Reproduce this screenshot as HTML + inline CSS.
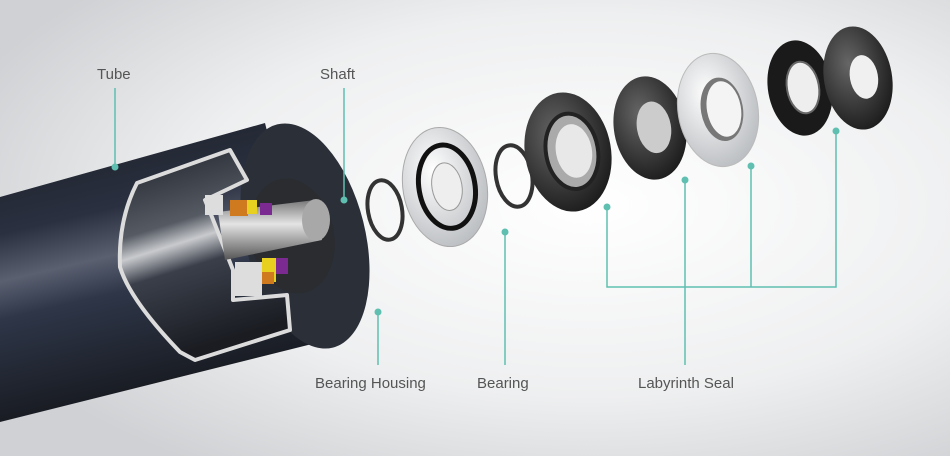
<!DOCTYPE html>
<html><head><meta charset="utf-8"><style>
html,body{margin:0;padding:0;width:950px;height:456px;overflow:hidden;background:#e6e7e9}
svg{display:block}
text{font-family:"Liberation Sans",sans-serif;font-size:15px;fill:#555}
</style></head><body>
<svg width="950" height="456" viewBox="0 0 950 456">
<defs>
<radialGradient id="bg" cx="62%" cy="45%" r="70%">
<stop offset="0" stop-color="#ffffff"/><stop offset="0.6" stop-color="#eeeff0"/><stop offset="1" stop-color="#cfd1d4"/>
</radialGradient>
<linearGradient id="tube" x1="0" y1="0" x2="0.25" y2="1">
<stop offset="0" stop-color="#1c1f26"/><stop offset="0.35" stop-color="#2a3040"/><stop offset="0.5" stop-color="#5a6070"/><stop offset="0.62" stop-color="#2e3648"/><stop offset="1" stop-color="#15171c"/>
</linearGradient>
<linearGradient id="inner" x1="0" y1="0" x2="0.25" y2="1">
<stop offset="0" stop-color="#1e2129"/><stop offset="0.4" stop-color="#555a63"/><stop offset="0.5" stop-color="#c8cacd"/><stop offset="0.62" stop-color="#3a3f4a"/><stop offset="1" stop-color="#1a1c22"/>
</linearGradient>
<linearGradient id="shaft" x1="0" y1="0" x2="0" y2="1">
<stop offset="0" stop-color="#777"/><stop offset="0.4" stop-color="#e4e4e4"/><stop offset="1" stop-color="#555"/>
</linearGradient>
<radialGradient id="silver" cx="40%" cy="35%" r="70%">
<stop offset="0" stop-color="#ffffff"/><stop offset="1" stop-color="#b9bcc0"/>
</radialGradient>
<radialGradient id="dark" cx="40%" cy="35%" r="70%">
<stop offset="0" stop-color="#666"/><stop offset="1" stop-color="#1a1a1a"/>
</radialGradient>
</defs>
<rect width="950" height="456" fill="url(#bg)"/>
<!-- tube -->
<path d="M0 197 L265 123 L320 342 L0 422 Z" fill="url(#tube)"/>
<ellipse cx="305" cy="236" rx="60" ry="115" transform="rotate(-14 305 236)" fill="#2b2f38"/>
<ellipse cx="292" cy="236" rx="42" ry="58" transform="rotate(-12 292 236)" fill="#2a2c30"/>
<!-- cutaway -->
<path d="M137 183 L230 150 L247 180 L205 200 L212 217 L233 270 L233 300 L287 295 L290 330 L195 360 L180 352 Q130 300 120 267 Q118 220 137 183 Z" fill="url(#inner)" stroke="#dcdcdc" stroke-width="4" stroke-linejoin="round"/>
<!-- shaft -->
<path d="M218 212 L315 200 L322 240 L225 260 Z" fill="url(#shaft)"/>
<ellipse cx="316" cy="220" rx="14" ry="21" fill="#a8a8a8"/>
<rect x="205" y="195" width="18" height="20" fill="#ddd"/>
<rect x="230" y="200" width="18" height="16" fill="#d07a20"/>
<rect x="247" y="200" width="10" height="14" fill="#e8d020"/>
<rect x="260" y="203" width="12" height="12" fill="#7a2a90"/>
<rect x="235" y="262" width="27" height="34" fill="#ddd"/>
<rect x="262" y="258" width="14" height="24" fill="#e8d020"/>
<rect x="262" y="272" width="12" height="12" fill="#d07a20"/>
<rect x="276" y="258" width="12" height="16" fill="#7a2a90"/>
<!-- rings -->
<g transform="rotate(-10 385 210)"><ellipse cx="385" cy="210" rx="17" ry="30" fill="none" stroke="#333" stroke-width="4"/></g>
<g transform="rotate(-10 445 187)"><ellipse cx="445" cy="187" rx="42" ry="60" fill="url(#silver)" stroke="#aaa"/><ellipse cx="447" cy="187" rx="28" ry="42" fill="none" stroke="#111" stroke-width="5"/><ellipse cx="447" cy="187" rx="15" ry="24" fill="#eee" stroke="#999"/></g>
<g transform="rotate(-10 514 176)"><ellipse cx="514" cy="176" rx="18" ry="31" fill="none" stroke="#333" stroke-width="4"/></g>
<g transform="rotate(-10 568 152)"><ellipse cx="568" cy="152" rx="43" ry="60" fill="url(#dark)"/><ellipse cx="572" cy="152" rx="26" ry="38" fill="#aaa" stroke="#222" stroke-width="4"/><ellipse cx="574" cy="152" rx="18" ry="27" fill="#e8e8e8"/></g>
<g transform="rotate(-10 650 128)"><ellipse cx="650" cy="128" rx="36" ry="52" fill="url(#dark)"/><ellipse cx="654" cy="128" rx="17" ry="26" fill="#ccc"/></g>
<g transform="rotate(-10 718 110)"><ellipse cx="718" cy="110" rx="40" ry="57" fill="url(#silver)" stroke="#bbb"/><ellipse cx="722" cy="110" rx="21" ry="32" fill="#777"/><ellipse cx="724" cy="110" rx="17" ry="28" fill="#f4f4f4"/></g>
<g transform="rotate(-10 800 88)"><ellipse cx="800" cy="88" rx="32" ry="48" fill="#1a1a1a"/><ellipse cx="803" cy="88" rx="16" ry="26" fill="#eee" stroke="#666" stroke-width="2"/></g>
<g transform="rotate(-10 858 78)"><ellipse cx="858" cy="78" rx="34" ry="52" fill="url(#dark)"/><ellipse cx="864" cy="78" rx="14" ry="22" fill="#f0f0f0"/></g>
<!-- callouts -->
<g stroke="#5fbfb0" stroke-width="1.5" fill="none">
<line x1="115" y1="88" x2="115" y2="167"/>
<line x1="344" y1="88" x2="344" y2="200"/>
<line x1="378" y1="312" x2="378" y2="365"/>
<line x1="505" y1="232" x2="505" y2="365"/>
<line x1="685" y1="180" x2="685" y2="365"/>
<path d="M607 207 V287 H836 V131 M751 166 V287"/>
</g>
<g fill="#5fbfb0">
<circle cx="115" cy="167" r="3.5"/><circle cx="344" cy="200" r="3.5"/><circle cx="378" cy="312" r="3.5"/>
<circle cx="505" cy="232" r="3.5"/><circle cx="685" cy="180" r="3.5"/><circle cx="607" cy="207" r="3.5"/>
<circle cx="751" cy="166" r="3.5"/><circle cx="836" cy="131" r="3.5"/>
</g>
<text x="97" y="79">Tube</text>
<text x="320" y="79">Shaft</text>
<text x="315" y="388">Bearing Housing</text>
<text x="477" y="388">Bearing</text>
<text x="638" y="388">Labyrinth Seal</text>
</svg>
</body></html>
